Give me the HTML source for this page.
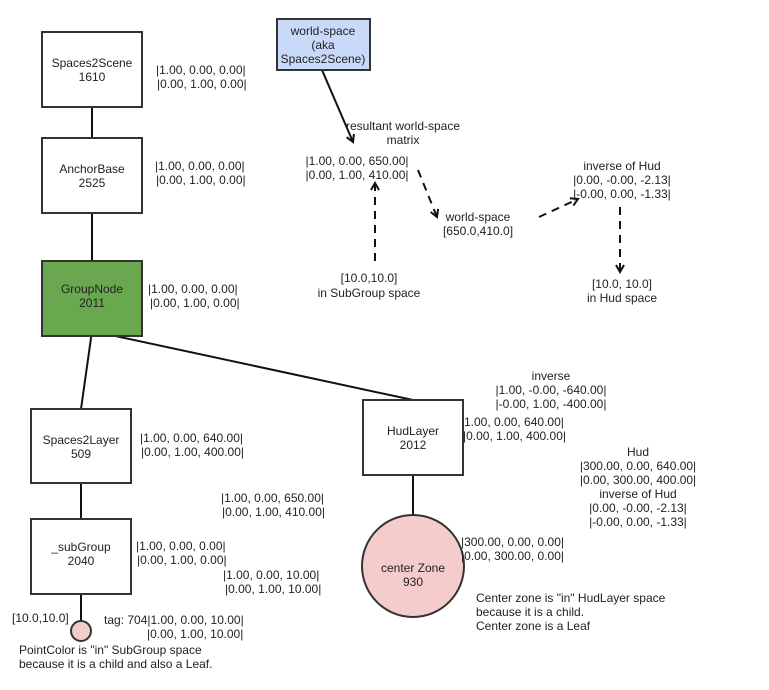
<!DOCTYPE html>
<html><head><meta charset="utf-8"><style>
body{margin:0;background:#fff}
svg{display:block}
text{font-family:"Liberation Sans",Arial,sans-serif;font-size:12px;fill:#222}
</style></head><body>
<svg width="769" height="690" viewBox="0 0 769 690" xmlns="http://www.w3.org/2000/svg">
<defs>
<marker id="a" markerWidth="10" markerHeight="10" refX="8" refY="5" orient="auto" markerUnits="userSpaceOnUse">
<path d="M1,1 L8,5 L1,9" fill="none" stroke="#111" stroke-width="2"/>
</marker>
</defs>
<g stroke="#111" stroke-width="2" fill="none">
<line x1="92" y1="107" x2="92" y2="138"/>
<line x1="92" y1="213" x2="92" y2="261"/>
<line x1="92" y1="331" x2="81" y2="409"/>
<line x1="92" y1="331" x2="413" y2="400"/>
<line x1="81" y1="483" x2="81" y2="519"/>
<line x1="81" y1="594" x2="81" y2="621"/>
<line x1="413" y1="475" x2="413" y2="515"/>
<line x1="322" y1="70" x2="353" y2="142" marker-end="url(#a)"/>
<g stroke-dasharray="8,6">
<line x1="375" y1="261" x2="375" y2="183" marker-end="url(#a)"/>
<line x1="418" y1="170" x2="437" y2="217" marker-end="url(#a)"/>
<line x1="539" y1="217" x2="578" y2="199" marker-end="url(#a)"/>
<line x1="620" y1="207" x2="620" y2="272" marker-end="url(#a)"/>
</g>
</g>
<g stroke="#333" stroke-width="2">
<rect x="42" y="32" width="100" height="75" fill="#fff"/>
<rect x="42" y="138" width="100" height="75" fill="#fff"/>
<rect x="42" y="261" width="100" height="75" fill="#6aa84f"/>
<rect x="31" y="409" width="100" height="74" fill="#fff"/>
<rect x="31" y="519" width="100" height="75" fill="#fff"/>
<rect x="363" y="400" width="100" height="75" fill="#fff"/>
<rect x="277" y="19" width="93" height="51" fill="#c9daf8"/>
<circle cx="413" cy="566" r="51" fill="#f4cccc"/>
<circle cx="81" cy="631" r="10" fill="#f4cccc"/>
</g>
<g text-anchor="middle">
<text x="92" y="67">Spaces2Scene</text><text x="92" y="81">1610</text>
<text x="92" y="173">AnchorBase</text><text x="92" y="187">2525</text>
<text x="92" y="293">GroupNode</text><text x="92" y="307">2011</text>
<text x="81" y="444">Spaces2Layer</text><text x="81" y="458">509</text>
<text x="81" y="551">_subGroup</text><text x="81" y="565">2040</text>
<text x="413" y="435">HudLayer</text><text x="413" y="449">2012</text>
<text x="413" y="572">center Zone</text><text x="413" y="586">930</text>
<text x="323" y="35">world-space</text><text x="323" y="49">(aka</text><text x="323" y="63">Spaces2Scene)</text>
<text x="403" y="130">resultant world-space</text><text x="403" y="144">matrix</text>
<text x="357" y="165">|1.00, 0.00, 650.00|</text><text x="357" y="179">|0.00, 1.00, 410.00|</text>
<text x="478" y="221">world-space</text><text x="478" y="235">[650.0,410.0]</text>
<text x="369" y="282">[10.0,10.0]</text><text x="369" y="297">in SubGroup space</text>
<text x="622" y="170">inverse of Hud</text><text x="622" y="184">|0.00, -0.00, -2.13|</text><text x="622" y="198">|-0.00, 0.00, -1.33|</text>
<text x="622" y="288">[10.0, 10.0]</text><text x="622" y="302">in Hud space</text>
<text x="551" y="380">inverse</text><text x="551" y="394">|1.00, -0.00, -640.00|</text><text x="551" y="408">|-0.00, 1.00, -400.00|</text>
<text x="638" y="456">Hud</text><text x="638" y="470">|300.00, 0.00, 640.00|</text><text x="638" y="484">|0.00, 300.00, 400.00|</text><text x="638" y="498">inverse of Hud</text><text x="638" y="512">|0.00, -0.00, -2.13|</text><text x="638" y="526">|-0.00, 0.00, -1.33|</text>
</g>
<text x="156" y="74">|1.00, 0.00, 0.00|</text><text x="157" y="88">|0.00, 1.00, 0.00|</text>
<text x="155" y="170">|1.00, 0.00, 0.00|</text><text x="156" y="184">|0.00, 1.00, 0.00|</text>
<text x="148" y="293">|1.00, 0.00, 0.00|</text><text x="150" y="307">|0.00, 1.00, 0.00|</text>
<text x="140" y="442">|1.00, 0.00, 640.00|</text><text x="141" y="456">|0.00, 1.00, 400.00|</text>
<text x="221" y="502">|1.00, 0.00, 650.00|</text><text x="222" y="516">|0.00, 1.00, 410.00|</text>
<text x="136" y="550">|1.00, 0.00, 0.00|</text><text x="137" y="564">|0.00, 1.00, 0.00|</text>
<text x="223" y="579">|1.00, 0.00, 10.00|</text><text x="225" y="593">|0.00, 1.00, 10.00|</text>
<text x="12" y="622">[10.0,10.0]</text>
<text x="104" y="624">tag: 704|1.00, 0.00, 10.00|</text><text x="147" y="638">|0.00, 1.00, 10.00|</text>
<text x="19" y="654">PointColor is "in" SubGroup space</text><text x="19" y="668">because it is a child and also a Leaf.</text>
<text x="464" y="426">1.00, 0.00, 640.00|</text><text x="463" y="440">|0.00, 1.00, 400.00|</text>
<text x="461" y="546">|300.00, 0.00, 0.00|</text><text x="461" y="560">|0.00, 300.00, 0.00|</text>
<text x="476" y="602">Center zone is "in" HudLayer space</text><text x="476" y="616">because it is a child.</text><text x="476" y="630">Center zone is a Leaf</text>
</svg>
</body></html>
